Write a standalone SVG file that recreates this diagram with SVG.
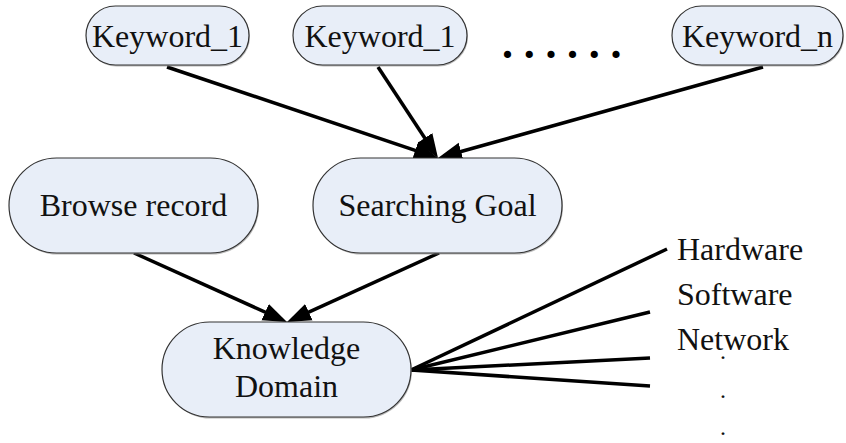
<svg xmlns="http://www.w3.org/2000/svg" width="846" height="443" viewBox="0 0 846 443">
  <style>
    .node { fill: #e8eef8; stroke: #333; stroke-width: 1.2; }
    .shadow { fill: #8a8a8a; opacity: 0.6; }
    .edge { fill: none; stroke: #000; stroke-width: 3.5; }
  </style>
  <defs>
    <marker id="arrow" markerUnits="userSpaceOnUse" markerWidth="26" markerHeight="20" refX="14" refY="10" orient="auto" viewBox="0 0 26 20">
      <path d="M0,1 L24,10 L0,19 Z" fill="#000"/>
    </marker>
  </defs>
  <rect width="846" height="443" fill="#fff"/>

  <g id="connectors">
    <path class="edge" d="M167,67 L428.5,154.8" marker-end="url(#arrow)"/>
    <path class="edge" d="M378,67 L432.5,149.7" marker-end="url(#arrow)"/>
    <path class="edge" d="M763,67 L447.6,155.3" marker-end="url(#arrow)"/>
    <path class="edge" d="M134,253 L277.9,317.9" marker-end="url(#arrow)"/>
    <path class="edge" d="M439,253 L296.1,317.9" marker-end="url(#arrow)"/>
    <!-- domain fan-out -->
    <path class="edge" d="M411,370 L667,249"/>
    <path class="edge" d="M411,370 L650,312"/>
    <path class="edge" d="M411,370 L650,358"/>
    <path class="edge" d="M411,370 L650,386"/>
  </g>

  <g font-family="Liberation Serif, serif" font-size="32" fill="#111">
    <g id="keyword1">
      <rect class="shadow" x="87" y="7.5" width="163" height="59" rx="29.5"/>
      <rect class="node" x="86" y="6" width="163" height="59" rx="29.5"/>
      <text x="167.5" y="47" text-anchor="middle">Keyword_1</text>
    </g>
    <g id="keyword2">
      <rect class="shadow" x="294" y="7.5" width="174" height="59" rx="29.5"/>
      <rect class="node" x="293" y="6" width="174" height="59" rx="29.5"/>
      <text x="380" y="47" text-anchor="middle">Keyword_1</text>
    </g>
    <g id="ellipsis">
      <text x="502" y="58" font-size="44" font-weight="bold" letter-spacing="10.7" fill="#000">......</text>
    </g>
    <g id="keywordN">
      <rect class="shadow" x="673" y="7.5" width="171" height="59" rx="29.5"/>
      <rect class="node" x="672" y="6" width="171" height="59" rx="29.5"/>
      <text x="757.5" y="47" text-anchor="middle">Keyword_n</text>
    </g>

    <g id="browse-record">
      <rect class="shadow" x="10" y="159.5" width="249" height="95" rx="47.5"/>
      <rect class="node" x="9" y="158" width="249" height="95" rx="47.5"/>
      <text x="133.5" y="216" text-anchor="middle">Browse record</text>
    </g>
    <g id="searching-goal">
      <rect class="shadow" x="314" y="159.5" width="249" height="95" rx="47.5"/>
      <rect class="node" x="313" y="158" width="249" height="95" rx="47.5"/>
      <text x="437.5" y="216" text-anchor="middle">Searching Goal</text>
    </g>
    <g id="knowledge-domain">
      <rect class="shadow" x="163" y="323.5" width="249" height="95" rx="47.5"/>
      <rect class="node" x="162" y="322" width="249" height="95" rx="47.5"/>
      <text x="286.5" y="359" text-anchor="middle">Knowledge</text>
      <text x="286.5" y="397" text-anchor="middle">Domain</text>
    </g>

    <g id="domain-items">
      <text x="677" y="260">Hardware</text>
      <text x="677" y="305">Software</text>
      <text x="677" y="350">Network</text>
      <text x="720" y="359" font-size="24">.</text>
      <text x="720" y="398" font-size="24">.</text>
      <text x="720" y="435" font-size="24">.</text>
    </g>
  </g>
</svg>
